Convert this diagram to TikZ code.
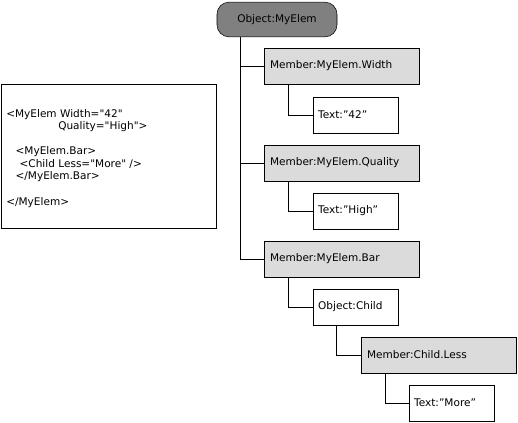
\documentclass[tikz,border=0pt]{standalone}
\usepackage{fontspec}
\setmainfont{DejaVu Sans}
\newfontfamily\codefont{DejaVu Sans}[Ligatures=TeXOff]
\usetikzlibrary{positioning}

\tikzset{
	objbox/.style={draw=black, fill=black!50, rounded corners=9pt, minimum width=90pt, minimum height=26pt, inner sep=0pt},
	membox/.style={draw=black, fill=black!14, text width=108pt, minimum height=27pt, inner xsep=4pt, align=left},
	txtbox/.style={draw=black, fill=white, text width=56pt, minimum height=27pt, inner xsep=4pt, align=left},
}

\begin{document}
\begin{tikzpicture}[x=0.75pt, y=-0.75pt, font=\fontsize{7.9}{9.4}\selectfont]
	\useasboundingbox (0, 0) rectangle (518, 422);

	% XAML
	\node [draw=black, anchor=north west, minimum width=161pt, minimum height=108pt, inner sep=0pt] (xaml) at (1, 84) {};
	\node [anchor=north west, align=left, inner sep=0pt, font=\codefont\fontsize{7.9}{9.4}\selectfont] (code) at (6, 109) {%
		<MyElem Width="42"\\
		\hspace*{39pt}Quality="High">\\[9.4pt]
		\hspace*{7pt}<MyElem.Bar>\\
		\hspace*{10pt}<Child Less="More" />\\
		\hspace*{7pt}</MyElem.Bar>\\[9.4pt]
		</MyElem>};

	% modules
	\node [objbox] (obj) at (277, 19.5) {Object:MyElem};
	\node [membox] (memW) at (342, 66) {Member:MyElem.Width};
	\node [txtbox] (txtW) at (355.5, 115) {Text:”42”};
	\node [membox] (memQ) at (342, 163) {Member:MyElem.Quality};
	\node [txtbox] (txtQ) at (355.5, 211) {Text:”High”};
	\node [membox] (memB) at (342, 259) {Member:MyElem.Bar};
	\node [txtbox] (objC) at (355.5, 307) {Object:Child};
	\node [membox] (memL) at (439, 355) {Member:Child.Less};
	\node [txtbox] (txtL) at (451.5, 403) {Text:”More”};

	% lines
	\draw ([xshift=18pt]obj.south west) |- (memB.west);
	\draw ([xshift=18pt]obj.south west |- memW.west) -- (memW.west);
	\draw ([xshift=18pt]obj.south west |- memQ.west) -- (memQ.west);

	\draw ([xshift=18pt]memW.south west) |- (txtW.west);
	\draw ([xshift=18pt]memQ.south west) |- (txtQ.west);
	\draw ([xshift=18pt]memB.south west) |- (objC.west);
	\draw ([xshift=18pt]objC.south west) |- (memL.west);
	\draw ([xshift=18pt]memL.south west) |- (txtL.west);
\end{tikzpicture}
\end{document}
